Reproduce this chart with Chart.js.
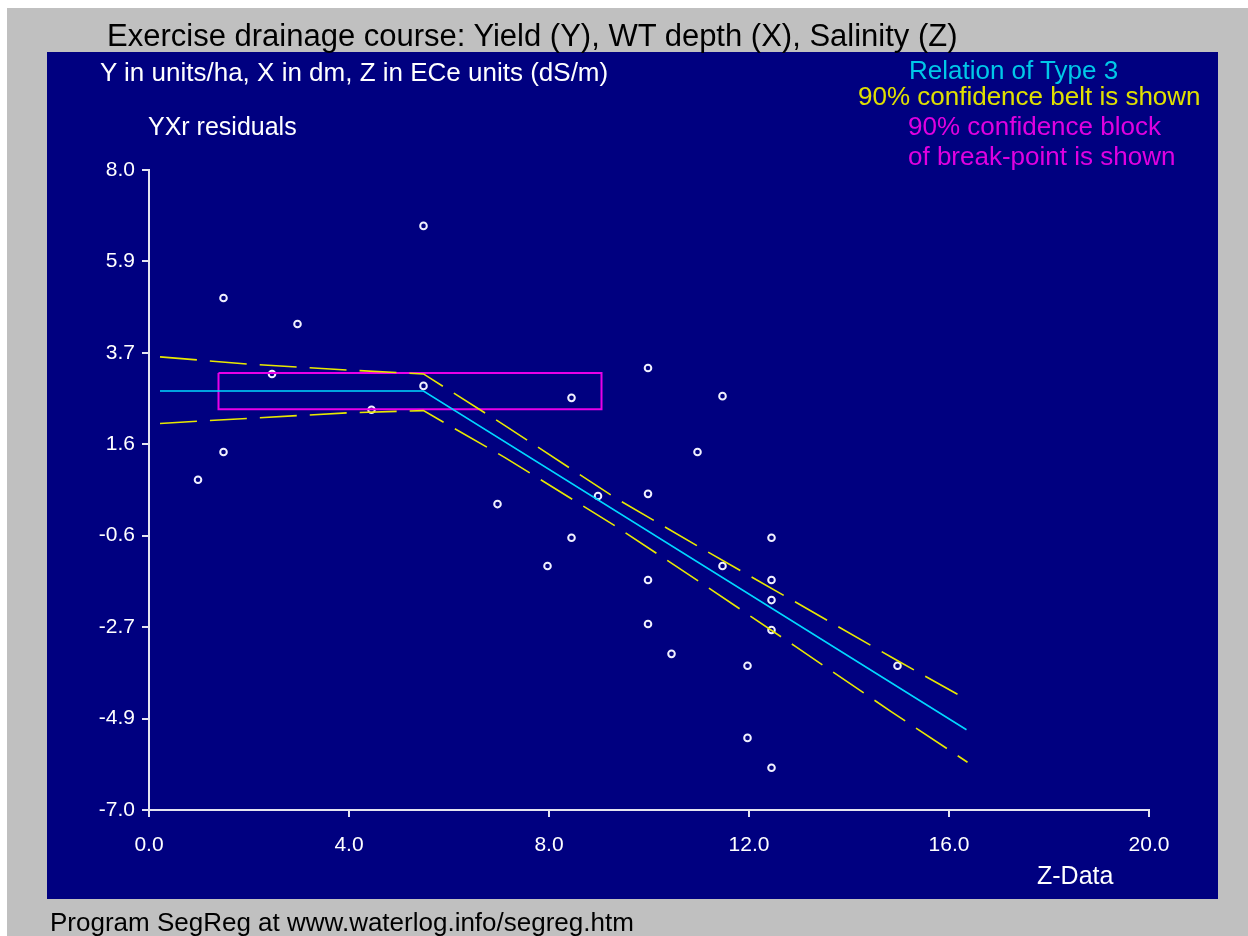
<!DOCTYPE html>
<html>
<head>
<meta charset="utf-8">
<script src="https://cdn.jsdelivr.net/npm/chart.js@4/dist/chart.umd.min.js"></script>
<style>
  html, body { margin:0; padding:0; background:#fff; width:1248px; height:936px; overflow:hidden; }
  body { position:relative; font-family:"Liberation Sans", Arial, sans-serif; }
  #gray { position:absolute; left:7px; top:8px; right:0; bottom:0; background:#c0c0c0; }
  #panel { position:absolute; left:47px; top:52px; width:1171px; height:847px; background:#000080; }
  #chart { position:absolute; left:0; top:0; }
  .t { position:absolute; white-space:nowrap; line-height:1; pointer-events:none; }
</style>
</head>
<body>
<div id="gray"></div>
<div id="panel"></div>
<canvas id="chart" width="1248" height="936"></canvas>

<div class="t" style="left:107px; top:20px; font-size:31px; color:#000;">Exercise drainage course: Yield (Y), WT depth (X), Salinity (Z)</div>
<div class="t" style="left:100px; top:59px; font-size:26px; color:#fff;">Y in units/ha, X in dm, Z in ECe units (dS/m)</div>
<div class="t" style="left:148px; top:114px; font-size:25px; color:#fff;">YXr residuals</div>
<div class="t" style="left:909px; top:57px; font-size:26px; color:#00c8e8;">Relation of Type 3</div>
<div class="t" style="left:858px; top:83px; font-size:26px; color:#e0e000;">90% confidence belt is shown</div>
<div class="t" style="left:908px; top:113px; font-size:26px; color:#e000e0;">90% confidence block</div>
<div class="t" style="left:908px; top:143px; font-size:26px; color:#e000e0;">of break-point is shown</div>
<div class="t" style="left:1037px; top:863px; font-size:25px; color:#fff;">Z-Data</div>
<div class="t" style="left:50px; top:909px; font-size:26px; color:#000;">Program SegReg at www.waterlog.info/segreg.htm</div>

<script>
// observed residuals
const zData = [0.98, 1.49, 1.49, 2.46, 2.97, 4.45, 5.49, 5.49, 6.97, 7.97, 8.45, 8.45, 8.98,
               9.98, 9.98, 9.98, 9.98, 10.45, 10.97, 11.47, 11.47, 11.97, 11.97,
               12.45, 12.45, 12.45, 12.45, 12.45, 14.97];
const yData = [0.74, 5.00, 1.39, 3.22, 4.39, 2.38, 6.69, 2.94, 0.17, -1.28, 2.66, -0.62, 0.36,
               3.36, 0.41, -1.61, -2.64, -3.34, 1.39, 2.70, -1.28, -3.62, -5.31,
               -0.62, -1.61, -2.08, -2.78, -6.01, -3.62];

// segmented regression (type 3: flat, then falling)
const lineZ = [0.22, 5.49, 16.35];
const lineY = [2.82, 2.82, -5.12];

// 90% confidence belt
const beltZ     = [0.22, 2.0, 4.0, 5.49, 7.12, 9.32, 11.01, 12.92, 14.85, 16.37];
const beltUpper = [3.62, 3.45, 3.31, 3.22, 2.01, 0.32, -0.84, -2.12, -3.42, -4.42];
const beltLower = [2.06, 2.18, 2.31, 2.36, 1.26, -0.34, -1.65, -3.16, -4.70, -5.88];

// 90% confidence block of the break-point
const blockZ = [1.39, 9.05];
const blockY = [2.39, 3.24];

const yTickVals = [-7, -4.857, -2.714, -0.571, 1.571, 3.714, 5.857, 8];

const NAVY = '#000080', AXIS = '#e4e4f0';
const pts = (xs, ys) => xs.map((x, i) => ({ x, y: ys[i] }));
const blockPts = [
  { x: blockZ[0], y: blockY[1] }, { x: blockZ[1], y: blockY[1] },
  { x: blockZ[1], y: blockY[0] }, { x: blockZ[0], y: blockY[0] },
  { x: blockZ[0], y: blockY[1] }
];

new Chart(document.getElementById('chart'), {
  type: 'scatter',
  data: {
    datasets: [
      { data: pts(lineZ, lineY), showLine: true, borderColor: '#00d8ff', borderWidth: 1.6, pointRadius: 0, fill: false },
      { data: pts(beltZ, beltUpper), showLine: true, borderColor: '#e8e800', borderWidth: 1.6, borderDash: [37, 13], pointRadius: 0, fill: false },
      { data: pts(beltZ, beltLower), showLine: true, borderColor: '#e8e800', borderWidth: 1.6, borderDash: [37, 13], pointRadius: 0, fill: false },
      { data: blockPts, showLine: true, borderColor: '#e800e8', borderWidth: 2, pointRadius: 0, fill: false },
      { data: pts(zData, yData), showLine: false, pointRadius: 3.3, pointBorderWidth: 2,
        pointBorderColor: '#f0f0ff', pointBackgroundColor: NAVY }
    ]
  },
  options: {
    responsive: false,
    animation: false,
    devicePixelRatio: 1,
    layout: { padding: { left: 89, right: 99, top: 170, bottom: 66 } },
    plugins: { legend: { display: false }, tooltip: { enabled: false } },
    scales: {
      x: {
        type: 'linear', min: 0, max: 20,
        ticks: { stepSize: 4, color: '#fff', padding: 16, font: { family: 'Liberation Sans', size: 21 },
                 callback: v => v.toFixed(1) },
        grid: { drawOnChartArea: false, drawTicks: true, tickLength: 7, color: AXIS, lineWidth: 2 },
        border: { color: AXIS, width: 2 },
        afterFit: s => { s.height = 60; }
      },
      y: {
        type: 'linear', min: -7, max: 8,
        afterBuildTicks: s => { s.ticks = yTickVals.map(v => ({ value: v })); },
        ticks: { color: '#fff', padding: 7, font: { family: 'Liberation Sans', size: 21 },
                 callback: v => v.toFixed(1) },
        grid: { drawOnChartArea: false, drawTicks: true, tickLength: 7, color: AXIS, lineWidth: 2 },
        border: { color: AXIS, width: 2 },
        afterFit: s => { s.width = 60; }
      }
    }
  }
});
</script>
</body>
</html>
